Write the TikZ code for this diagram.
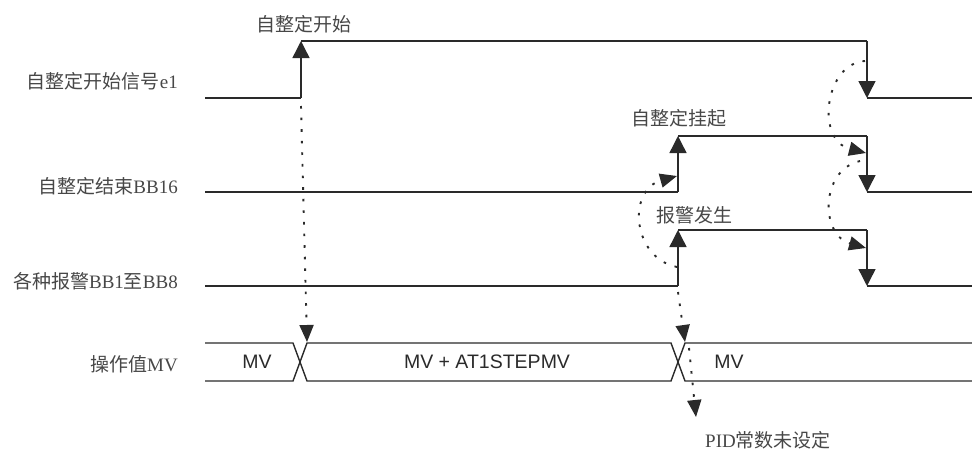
\documentclass[tikz,border=0pt]{standalone}
\usepackage{fontspec}
\setmainfont{Liberation Sans}
\newfontfamily\cjk{Noto Sans CJK SC}
\newfontfamily\lser{Liberation Serif}
\usetikzlibrary{arrows.meta}
\definecolor{ink}{HTML}{2A2A2A}
\definecolor{txt}{HTML}{474747}
\newcommand{\la}[1]{{\lser #1}}
\tikzset{
  sig/.style={draw=ink, line width=1.4pt},
  up/.style={sig, -{Triangle[width=17pt,length=17pt]}},
  dots/.style={draw=ink, line width=1.9pt, dash pattern=on 2.6pt off 9pt, -{Triangle[width=14pt,length=17pt]}},
  lbl/.style={font=\cjk\fontsize{19}{22}\selectfont, text=txt, inner sep=0pt},
  rlbl/.style={lbl, anchor=east},
  mv/.style={font=\fontsize{19.5}{22}\selectfont, text=ink, inner sep=0pt}
}
\begin{document}
\begin{tikzpicture}[x=1pt,y=-1pt]
\useasboundingbox (0,0) rectangle (972,455);
% signal 1
\coordinate (a0) at (205,98);  \coordinate (a1) at (301,98);
\coordinate (a2) at (301,41);  \coordinate (a3) at (867,41);
\coordinate (a4) at (867,98);  \coordinate (a5) at (972,98);
% signal 2
\coordinate (b0) at (205,192); \coordinate (b1) at (678,192);
\coordinate (b2) at (678,136); \coordinate (b3) at (867,136);
\coordinate (b4) at (867,192); \coordinate (b5) at (972,192);
% signal 3
\coordinate (c0) at (205,286); \coordinate (c1) at (678,286);
\coordinate (c2) at (678,230); \coordinate (c3) at (867,230);
\coordinate (c4) at (867,286); \coordinate (c5) at (972,286);

\draw[sig] (a0) -- (a1); \draw[up] (a1) -- (a2);
\draw[sig] (a2) -- (a3); \draw[up] (a3) -- (a4); \draw[sig] (a4) -- (a5);
\draw[sig] (b0) -- (b1); \draw[up] (b1) -- (b2);
\draw[sig] (b2) -- (b3); \draw[up] (b3) -- (b4); \draw[sig] (b4) -- (b5);
\draw[sig] (c0) -- (c1); \draw[up] (c1) -- (c2);
\draw[sig] (c2) -- (c3); \draw[up] (c3) -- (c4); \draw[sig] (c4) -- (c5);

% MV bus
\draw[sig] (205,343) -- (293,343) -- (307,381) -- (671,381) -- (685,343) -- (972,343);
\draw[sig] (205,381) -- (293,381) -- (307,343) -- (671,343) -- (685,381) -- (972,381);
\node[mv] (mv1) at (257,362) {MV};
\node[mv] (mv2) at (487,362) {MV + AT1STEPMV};
\node[mv] (mv3) at (729,362) {MV};

% left labels
\node[rlbl] (l1) at (178,81) {自整定开始信号\la{e1}};
\node[rlbl] (l2) at (178,186) {自整定结束\la{BB16}};
\node[rlbl] (l3) at (178,281) {各种报警\la{BB1}至\la{BB8}};
\node[rlbl] (l4) at (178,364) {操作值\la{MV}};

% event labels
\node[lbl] (e1) at (304,24) {自整定开始};
\node[lbl] (e2) at (679,118) {自整定挂起};
\node[lbl] (e3) at (694,215) {报警发生};
\node[lbl] (e4) at (768,440) {\la{PID}常数未设定};

% dotted arrows
\coordinate (d1s) at (301,106); \coordinate (d1e) at (307,342);
\draw[dots] (d1s) -- (d1e);
\coordinate (d2s) at (678,292); \coordinate (d2e) at (685,342);
\draw[dots] (d2s) -- (d2e);
\coordinate (d3s) at (689,348); \coordinate (d3e) at (696,417);
\draw[dots] (d3s) -- (d3e);
\coordinate (k1s) at (677,267); \coordinate (k1e) at (677,176);
\draw[dots] (k1s) .. controls (632,258) and (627,190) .. (k1e);
\coordinate (k2s) at (865,61); \coordinate (k2e) at (866,153);
\draw[dots] (k2s) .. controls (825,63) and (815,140) .. (k2e);
\coordinate (k3s) at (860,161); \coordinate (k3e) at (866,248);
\draw[dots] (k3s) .. controls (820,170) and (820,235) .. (k3e);
\end{tikzpicture}
\end{document}
